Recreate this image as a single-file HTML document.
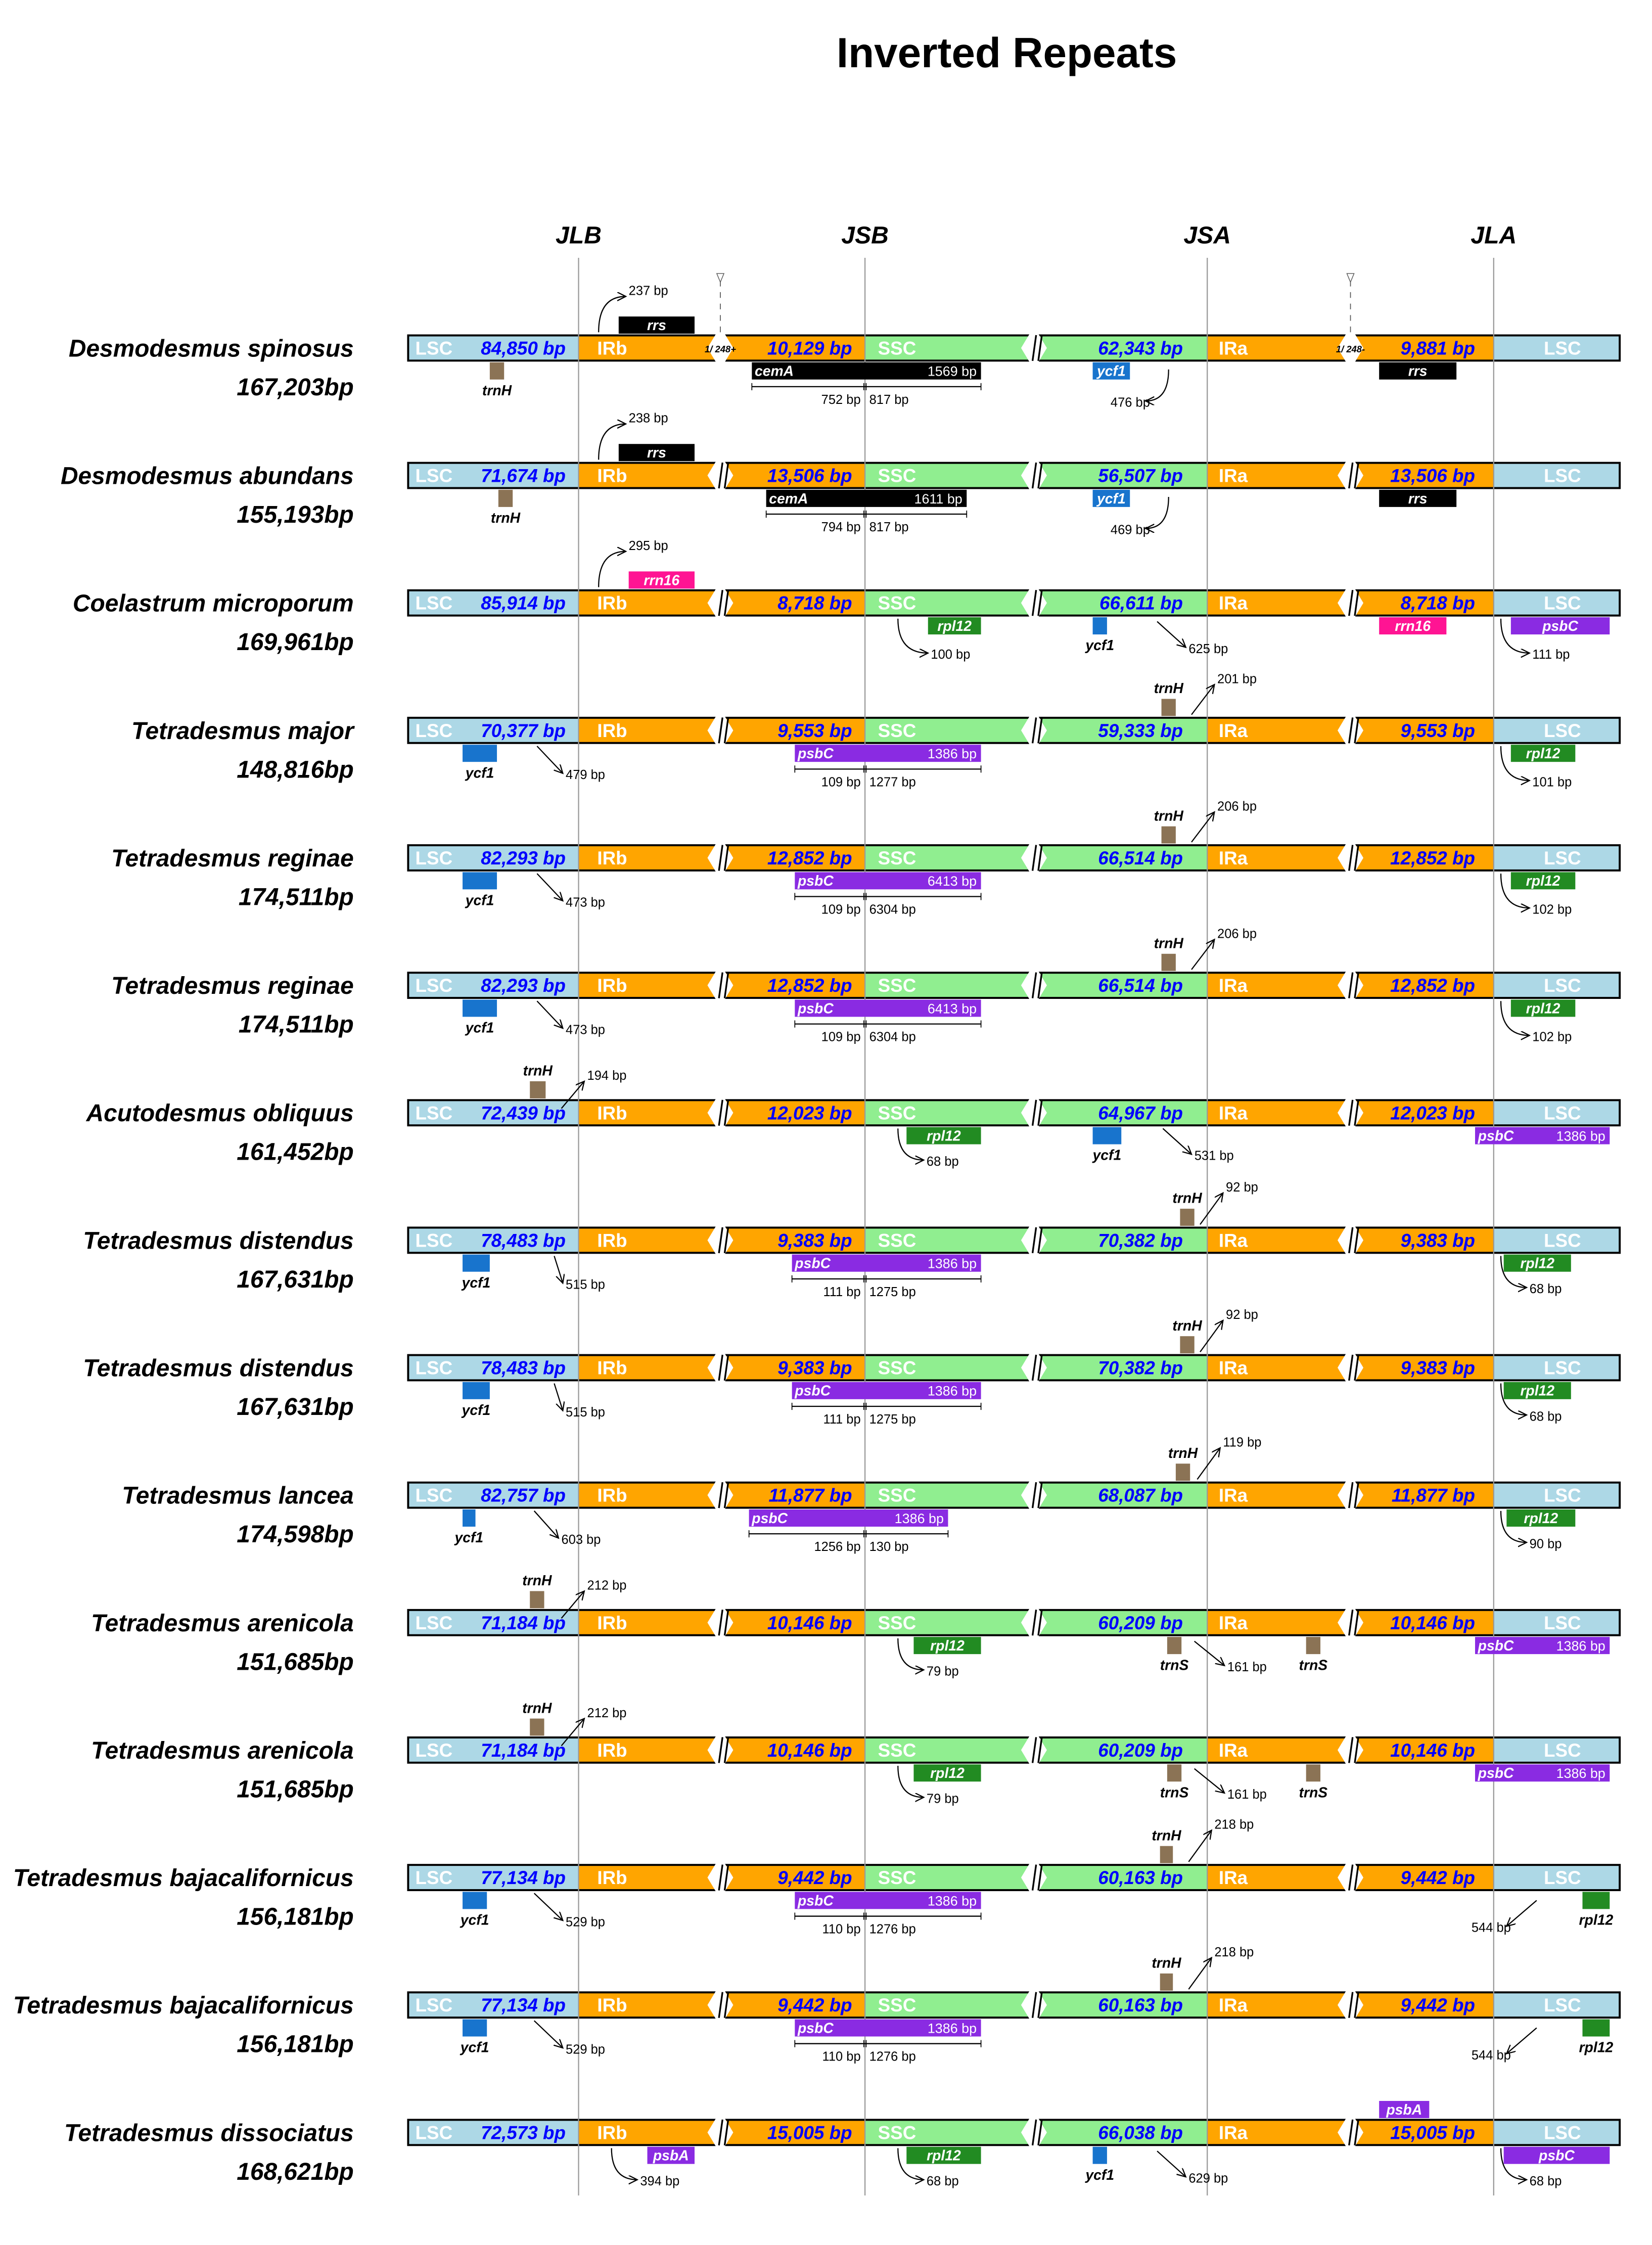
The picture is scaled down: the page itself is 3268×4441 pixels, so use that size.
<!DOCTYPE html>
<html><head><meta charset="utf-8"><title>Inverted Repeats</title>
<style>
html,body{margin:0;padding:0;background:#fff;}
svg{display:block;}
text{font-family:"Liberation Sans",sans-serif;}
</style></head>
<body>
<svg id="chart" width="3268" height="4441" viewBox="0 0 3268 4441" xmlns="http://www.w3.org/2000/svg">
<defs>
<marker id="ah" markerWidth="8" markerHeight="8" refX="6" refY="3" orient="auto" markerUnits="userSpaceOnUse"><path d="M0,0 L6,3 L0,6" fill="none" stroke="#000" stroke-width="0.8"/></marker>
</defs>
<g id="root" transform="scale(2.833)"></g>
</svg>
<script>
// ---- data ----
const species = ["Desmodesmus spinosus","Desmodesmus abundans","Coelastrum microporum","Tetradesmus major","Tetradesmus reginae","Tetradesmus reginae","Acutodesmus obliquus","Tetradesmus distendus","Tetradesmus distendus","Tetradesmus lancea","Tetradesmus arenicola","Tetradesmus arenicola","Tetradesmus bajacalifornicus","Tetradesmus bajacalifornicus","Tetradesmus dissociatus"];
const totals = ["167,203bp","155,193bp","169,961bp","148,816bp","174,511bp","174,511bp","161,452bp","167,631bp","167,631bp","174,598bp","151,685bp","151,685bp","156,181bp","156,181bp","168,621bp"];
const lscLen = ["84,850 bp","71,674 bp","85,914 bp","70,377 bp","82,293 bp","82,293 bp","72,439 bp","78,483 bp","78,483 bp","82,757 bp","71,184 bp","71,184 bp","77,134 bp","77,134 bp","72,573 bp"];
const irbLen = ["10,129 bp","13,506 bp","8,718 bp","9,553 bp","12,852 bp","12,852 bp","12,023 bp","9,383 bp","9,383 bp","11,877 bp","10,146 bp","10,146 bp","9,442 bp","9,442 bp","15,005 bp"];
const sscLen = ["62,343 bp","56,507 bp","66,611 bp","59,333 bp","66,514 bp","66,514 bp","64,967 bp","70,382 bp","70,382 bp","68,087 bp","60,209 bp","60,209 bp","60,163 bp","60,163 bp","66,038 bp"];
const iraLen = ["9,881 bp","13,506 bp","8,718 bp","9,553 bp","12,852 bp","12,852 bp","12,023 bp","9,383 bp","9,383 bp","11,877 bp","10,146 bp","10,146 bp","9,442 bp","9,442 bp","15,005 bp"];
const junctionNames = ["JLB","JSB","JSA","JLA"];
// genes: row, name, start, end (diagram units), side a/b, size label, label mode in/out
const genes = [
[0,"trnH",342,352,"b","","out"],[0,"rrs",432,485,"a","","in"],[0,"cemA",525,685,"b","1569 bp","in"],[0,"ycf1",763,789,"b","","in"],[0,"rrs",963,1017,"b","","in"],
[1,"trnH",348,358,"b","","out"],[1,"rrs",432,485,"a","","in"],[1,"cemA",535,675,"b","1611 bp","in"],[1,"ycf1",763,789,"b","","in"],[1,"rrs",963,1017,"b","","in"],
[2,"rrn16",439,485,"a","","in"],[2,"rpl12",648,685,"b","","in"],[2,"ycf1",763,773,"b","","out"],[2,"rrn16",963,1010,"b","","in"],[2,"psbC",1055,1124,"b","","in"],
[3,"ycf1",323,347,"b","","out"],[3,"psbC",555,685,"b","1386 bp","in"],[3,"trnH",811,821,"a","","out"],[3,"rpl12",1055,1100,"b","","in"],
[4,"ycf1",323,347,"b","","out"],[4,"psbC",555,685,"b","6413 bp","in"],[4,"trnH",811,821,"a","","out"],[4,"rpl12",1055,1100,"b","","in"],
[5,"ycf1",323,347,"b","","out"],[5,"psbC",555,685,"b","6413 bp","in"],[5,"trnH",811,821,"a","","out"],[5,"rpl12",1055,1100,"b","","in"],
[6,"trnH",370,381,"a","","out"],[6,"rpl12",633,685,"b","","in"],[6,"ycf1",763,783,"b","","out"],[6,"psbC",1030,1124,"b","1386 bp","in"],
[7,"ycf1",323,342,"b","","out"],[7,"psbC",553,685,"b","1386 bp","in"],[7,"trnH",824,834,"a","","out"],[7,"rpl12",1050,1097,"b","","in"],
[8,"ycf1",323,342,"b","","out"],[8,"psbC",553,685,"b","1386 bp","in"],[8,"trnH",824,834,"a","","out"],[8,"rpl12",1050,1097,"b","","in"],
[9,"ycf1",323,332,"b","","out"],[9,"psbC",523,662,"b","1386 bp","in"],[9,"trnH",821,831,"a","","out"],[9,"rpl12",1052,1100,"b","","in"],
[10,"trnH",370,380,"a","","out"],[10,"rpl12",638,685,"b","","in"],[10,"trnS",815,825,"b","","out"],[10,"trnS",912,922,"b","","out"],[10,"psbC",1030,1124,"b","1386 bp","in"],
[11,"trnH",370,380,"a","","out"],[11,"rpl12",638,685,"b","","in"],[11,"trnS",815,825,"b","","out"],[11,"trnS",912,922,"b","","out"],[11,"psbC",1030,1124,"b","1386 bp","in"],
[12,"ycf1",323,340,"b","","out"],[12,"psbC",555,685,"b","1386 bp","in"],[12,"trnH",810,819,"a","","out"],[12,"rpl12",1105,1124,"b","","out"],
[13,"ycf1",323,340,"b","","out"],[13,"psbC",555,685,"b","1386 bp","in"],[13,"trnH",810,819,"a","","out"],[13,"rpl12",1105,1124,"b","","out"],
[14,"psbA",452,485,"b","","in"],[14,"rpl12",633,685,"b","","in"],[14,"ycf1",763,773,"b","","out"],[14,"psbA",963,998,"a","","in"],[14,"psbC",1050,1124,"b","","in"]
];
// distance annotations: row, kind, x1, dy1, x2, dy2, label, label side
const notes = [
[0,"cu",418,-11,437,-36,"237 bp"],[0,"cd",816,15,800,37,"476 bp","l"],
[1,"cu",418,-11,437,-36,"238 bp"],[1,"cd",816,15,800,37,"469 bp","l"],
[2,"cu",418,-11,437,-36,"295 bp"],[2,"cr",627,11,648,35,"100 bp"],[2,"s",808,13,828,31,"625 bp"],[2,"cr",1048,11,1068,35,"111 bp"],
[3,"s",375,11,393,30,"479 bp"],[3,"s",832,-11,848,-32,"201 bp"],[3,"cr",1048,11,1068,35,"101 bp"],
[4,"s",375,11,393,30,"473 bp"],[4,"s",832,-11,848,-32,"206 bp"],[4,"cr",1048,11,1068,35,"102 bp"],
[5,"s",375,11,393,30,"473 bp"],[5,"s",832,-11,848,-32,"206 bp"],[5,"cr",1048,11,1068,35,"102 bp"],
[6,"s",392,-3,408,-22,"194 bp"],[6,"cr",627,11,645,33,"68 bp"],[6,"s",812,11,832,29,"531 bp"],
[7,"s",387,11,393,30,"515 bp"],[7,"s",838,-11,854,-33,"92 bp"],[7,"cr",1048,11,1066,33,"68 bp"],
[8,"s",387,11,393,30,"515 bp"],[8,"s",838,-11,854,-33,"92 bp"],[8,"cr",1048,11,1066,33,"68 bp"],
[9,"s",373,11,390,30,"603 bp"],[9,"s",836,-11,852,-33,"119 bp"],[9,"cr",1048,11,1066,33,"90 bp"],
[10,"s",392,-3,408,-22,"212 bp"],[10,"cr",627,11,645,33,"79 bp"],[10,"s",834,13,855,30,"161 bp"],
[11,"s",392,-3,408,-22,"212 bp"],[11,"cr",627,11,645,33,"79 bp"],[11,"s",834,13,855,30,"161 bp"],
[12,"s",373,11,393,30,"529 bp"],[12,"s",830,-11,846,-33,"218 bp"],[12,"s",1073,16,1052,34,"544 bp","l"],
[13,"s",373,11,393,30,"529 bp"],[13,"s",830,-11,846,-33,"218 bp"],[13,"s",1073,16,1052,34,"544 bp","l"],
[14,"cr",427,11,445,33,"394 bp"],[14,"cr",627,11,645,33,"68 bp"],[14,"s",808,13,828,31,"629 bp"],[14,"cr",1048,11,1066,33,"68 bp"]
];
// spanning rulers: row, start, end, left label, right label
const rulers = [[0,525,685,"752 bp","817 bp"],[1,535,675,"794 bp","817 bp"],[3,555,685,"109 bp","1277 bp"],[4,555,685,"109 bp","6304 bp"],[5,555,685,"109 bp","6304 bp"],[7,553,685,"111 bp","1275 bp"],[8,553,685,"111 bp","1275 bp"],[9,523,662,"1256 bp","130 bp"],[12,555,685,"110 bp","1276 bp"],[13,555,685,"110 bp","1276 bp"]];
const colors = {trnH:"#8B7355",trnS:"#8B7355",ycf1:"#1874CD",rrs:"#000000",cemA:"#000000",rpl12:"#228B22",psbC:"#8A2BE2",psbA:"#8A2BE2",rrn16:"#FF1493"};

// ---- layout ----
const NS="http://www.w3.org/2000/svg";
const root=document.getElementById("root");
const X0=285,JLB=404,JSB=604,JSA=843,JLA=1043,X1=1131;
const BRK=[503,722,943];
const rowY=i=>243+89*i;
function mk(tag,attrs,parent,txt){const e=document.createElementNS(NS,tag);for(const k in attrs)e.setAttribute(k,attrs[k]);if(txt!==undefined)e.textContent=txt;(parent||root).appendChild(e);return e;}

let t=mk("text",{x:703,y:47,"text-anchor":"middle","font-size":29.5,"font-weight":"bold"},root,"Inverted Repeats");


[JLB,JSB,JSA,JLA].forEach((x,i)=>{
  const h=mk("text",{x:x,y:170,"text-anchor":"middle","font-size":17,"font-weight":"bold","font-style":"italic"},root,junctionNames[i]);
  
  
});

species.forEach((sp,i)=>{
  const cy=rowY(i);
  const g=mk("g",{});
  
  
  const n=mk("text",{x:247,y:cy+6,"text-anchor":"end","font-size":16.9,"font-weight":"bold","font-style":"italic"},g,sp);
  
  
  const tt=mk("text",{x:247,y:cy+33,"text-anchor":"end","font-size":16.9,"font-weight":"bold","font-style":"italic"},g,totals[i]);
  
  
  const segs=[[X0,JLB,"#ADD8E6","lsc-region"],[JLB,JSB,"#FFA500","irb-region"],[JSB,JSA,"#90EE90","ssc-region"],[JSA,JLA,"#FFA500","ira-region"],[JLA,X1,"#ADD8E6","lsc-region-right"]];
  segs.forEach(s=>{const r=mk("rect",{x:s[0],y:cy-8.5,width:s[1]-s[0],height:17,fill:s[2]},g);
    
    });
  mk("rect",{x:X0,y:cy-8.8,width:X1-X0,height:17.6,fill:"none",stroke:"#000","stroke-width":1.4},g);
  // breaks
  BRK.forEach((bx,k)=>{
    const b=mk("polygon",{points:`${bx-9},${cy} ${bx-3},${cy-10} ${bx+3},${cy-10} ${bx+9},${cy} ${bx+3},${cy+10} ${bx-3},${cy+10}`,fill:"#fff"},g);
    
    
    if(i===0 && k!==1){
      mk("text",{x:bx,y:cy+3,"text-anchor":"middle","font-size":6.5,"font-weight":"bold","font-style":"italic"},g,k===0?"1/ 248+":"1/ 248-");
      mk("line",{x1:bx,y1:cy-11,x2:bx,y2:cy-48,stroke:"#555","stroke-width":0.6,"stroke-dasharray":"4,4"},g);
      mk("polygon",{points:`${bx-2.5},${cy-52} ${bx+2.5},${cy-52} ${bx},${cy-46}`,fill:"#fff",stroke:"#555","stroke-width":0.5},g);
    } else {
      mk("line",{x1:bx-1,y1:cy+9,x2:bx+1.5,y2:cy-9,stroke:"#000","stroke-width":1.2},g);
      mk("line",{x1:bx+3,y1:cy+9,x2:bx+5.5,y2:cy-9,stroke:"#000","stroke-width":1.2},g);
    }
  });
  const labs=[[290,"LSC","#fff","start",false],[395,lscLen[i],"#0000FF","end",true],[417,"IRb","#fff","start",false],[595,irbLen[i],"#0000FF","end",true],[613,"SSC","#fff","start",false],[826,sscLen[i],"#0000FF","end",true],[851,"IRa","#fff","start",false],[1030,iraLen[i],"#0000FF","end",true],[1091,"LSC","#fff","middle",false]];
  labs.forEach(l=>{const e=mk("text",{x:l[0],y:cy+4.6,"text-anchor":l[3],"font-size":13,"font-weight":"bold","font-style":l[4]?"italic":"normal",fill:l[2]},g,l[1]);
    
    });
});

// vertical junction lines
[JLB,JSB,JSA,JLA].forEach(x=>{const l=mk("line",{x1:x,y1:180,x2:x,y2:1533,stroke:"#999","stroke-width":0.8});
  
  });

genes.forEach(gd=>{
  const [r,name,x0,x1,side,size,mode]=gd;const cy=rowY(r);
  const y=side==="a"?cy-22:cy+10;
  const box=mk("rect",{x:x0,y:y,width:x1-x0,height:12,fill:colors[name]});
  
  
  if(mode==="in"){
    if(size){
      mk("text",{x:x0+2,y:y+9.5,"font-size":10,"font-weight":"bold","font-style":"italic",fill:"#fff"},root,name);
      mk("text",{x:x1-3,y:y+9.5,"text-anchor":"end","font-size":9.5,fill:"#fff"},root,size);
    } else mk("text",{x:(x0+x1)/2,y:y+9.5,"text-anchor":"middle","font-size":10,"font-weight":"bold","font-style":"italic",fill:"#fff"},root,name);
  } else {
    const ly=side==="a"?cy-26:cy+33;
    const lt=mk("text",{x:(x0+x1)/2,y:ly,"text-anchor":"middle","font-size":10,"font-weight":"bold","font-style":"italic"},root,name);
    
    
  }
});

rulers.forEach(rd=>{
  const [r,a,b,l1,l2]=rd;const y=rowY(r)+27;
  const g=mk("g",{});
  
  
  mk("line",{x1:a,y1:y,x2:b,y2:y,stroke:"#000","stroke-width":0.8},g);
  [a,b,JSB-0.8,JSB+0.8].forEach(x=>mk("line",{x1:x,y1:y-2.5,x2:x,y2:y+2.5,stroke:"#000","stroke-width":0.6},g));
  mk("text",{x:JSB-3,y:y+12,"text-anchor":"end","font-size":9},g,l1);
  mk("text",{x:JSB+3,y:y+12,"font-size":9},g,l2);
});

notes.forEach(nd=>{
  const [r,k,x1,d1,x2,d2,lab,side]=nd;const cy=rowY(r);
  const y1=cy+d1,y2=cy+d2;let d;
  if(k==="s") d=`M${x1},${y1} L${x2},${y2}`;
  else d=`M${x1},${y1} Q${x1},${y2} ${x2},${y2}`;
  const p=mk("path",{d:d,fill:"none",stroke:"#000","stroke-width":0.8,"marker-end":"url(#ah)"});
  
  
  let lx,ly,anc="start";
  if(side==="l"){lx=x2+3;ly=y2+4;anc="end";}
  else if(d2<0){lx=x2+2;ly=y2-1;}
  else {lx=x2+2;ly=y2+4;}
  const t2=mk("text",{x:lx,y:ly,"text-anchor":anc,"font-size":9},root,lab);
  
  
});
</script>
</body></html>
